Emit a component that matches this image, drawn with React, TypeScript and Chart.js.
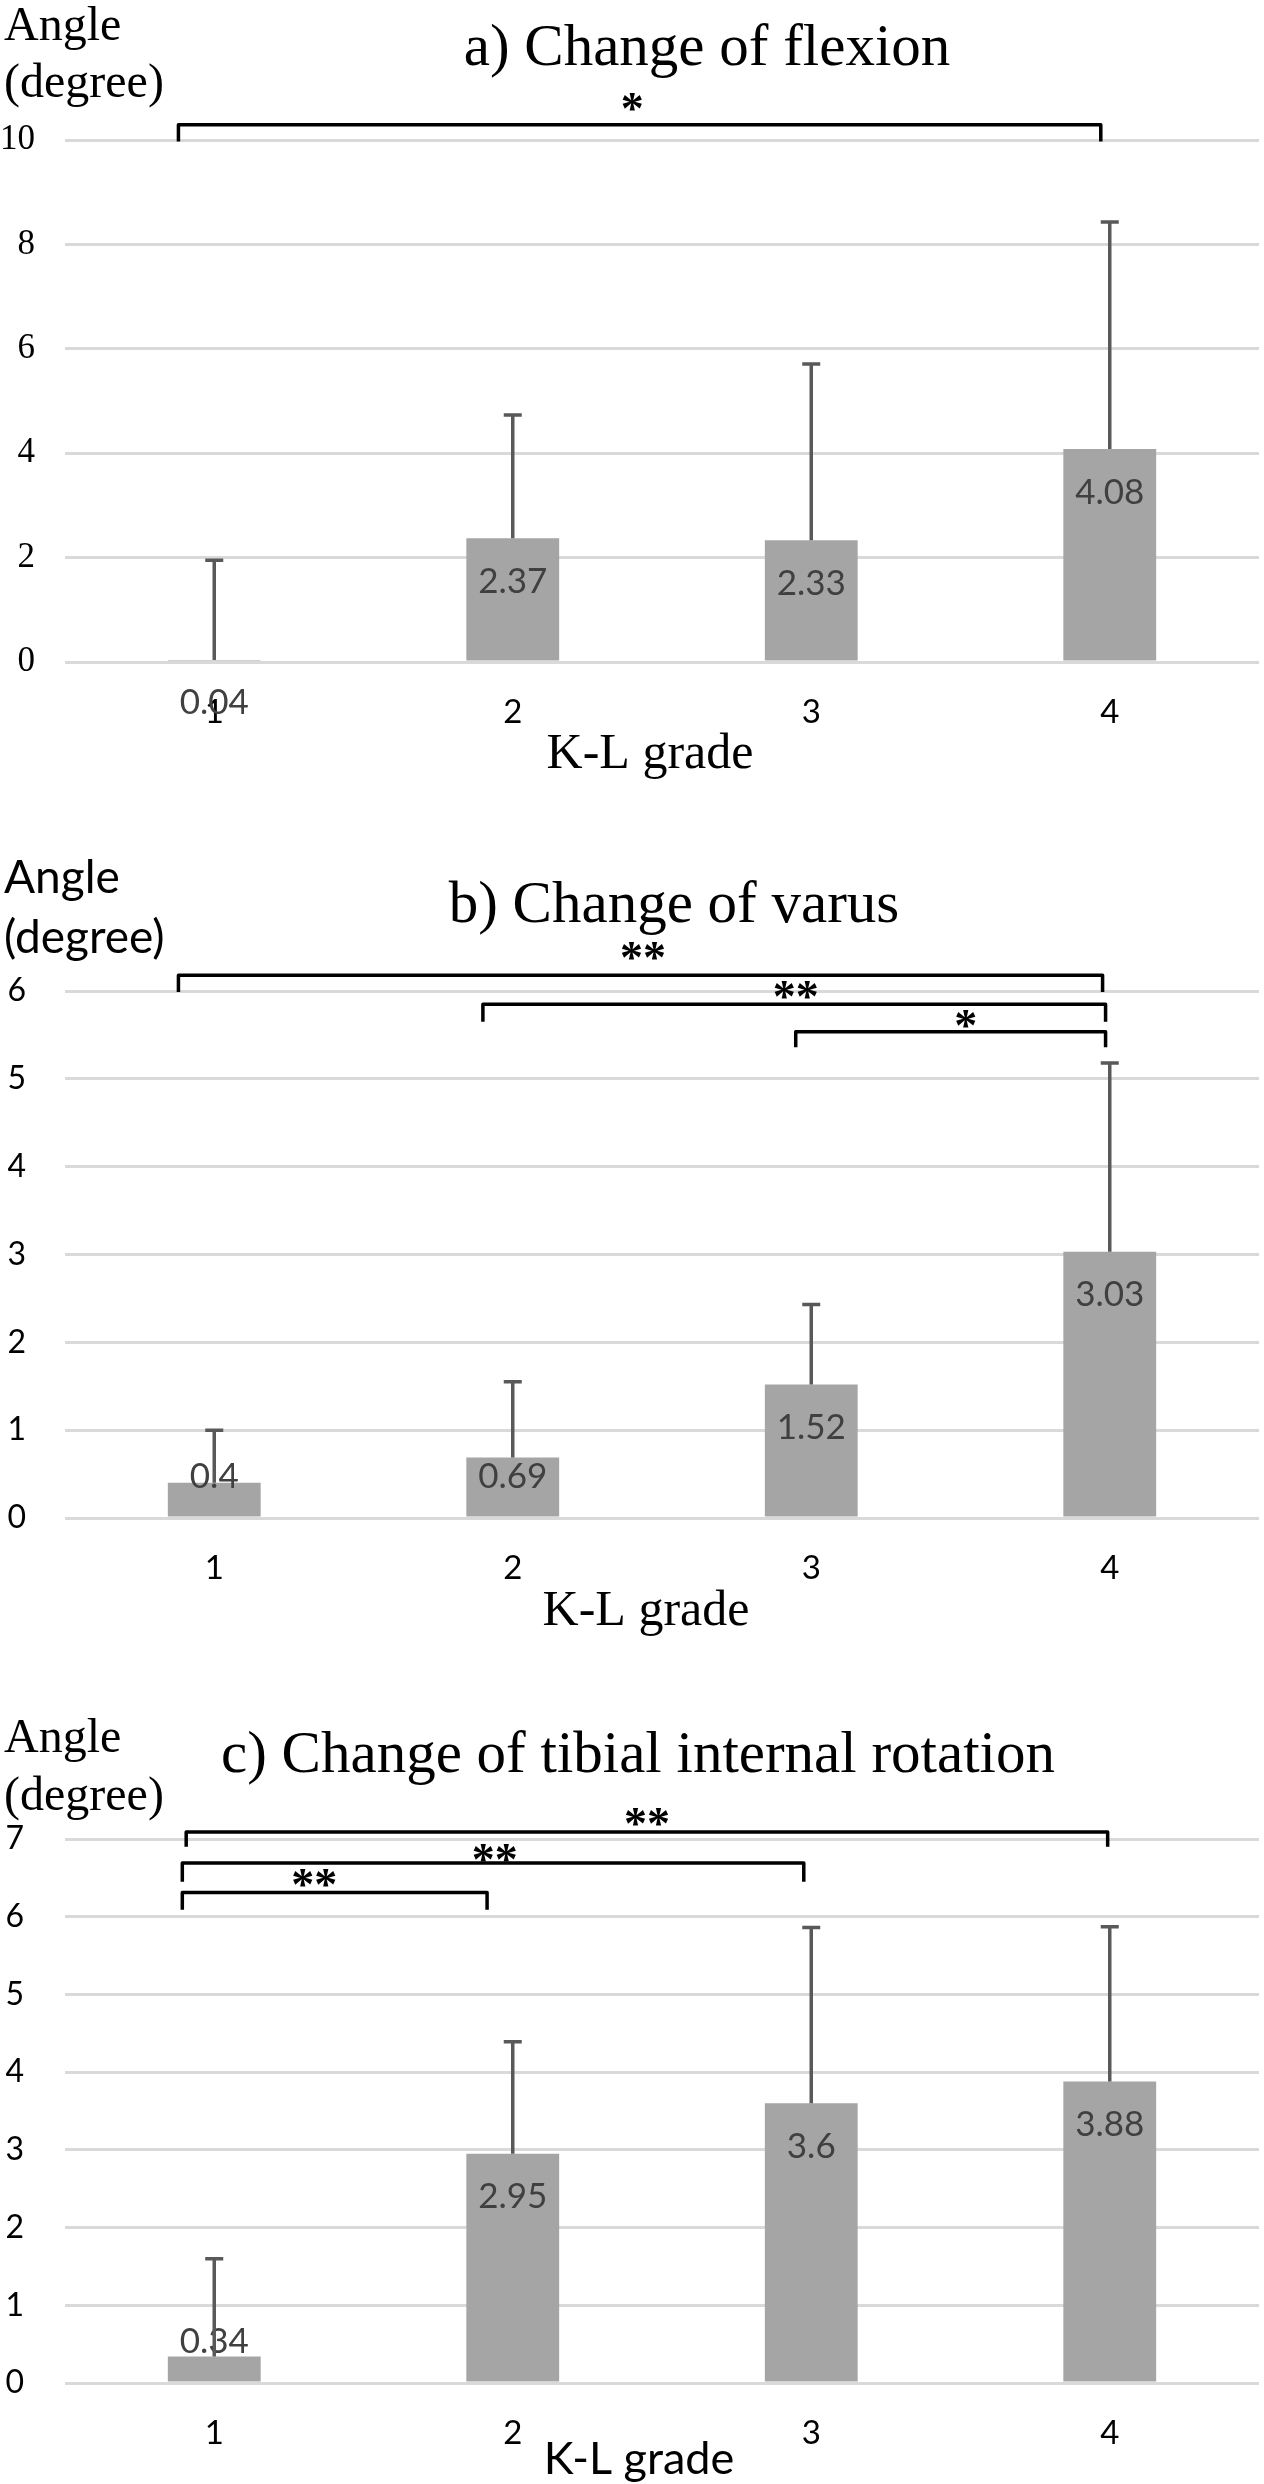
import React, { useEffect, useRef } from 'react';
import { Chart, registerables } from 'chart.js';

Chart.register(...registerables);

// ---------- data ----------
const categories = ['1', '2', '3', '4'];

const flexionMeans = [0.04, 2.37, 2.33, 4.08];
const flexionSD = [1.91, 2.36, 3.38, 4.35];

const varusMeans = [0.4, 0.69, 1.52, 3.03];
const varusSD = [0.6, 0.86, 0.91, 2.15];

const rotationMeans = [0.34, 2.95, 3.6, 3.88];
const rotationSD = [1.26, 1.44, 2.26, 1.99];

const flexionAxis = { max: 10, step: 2 };
const varusAxis = { max: 6, step: 1 };
const rotationAxis = { max: 7, step: 1 };

// significance brackets (category index / axis value units)
type Bracket = { from: number; to: number; top: number; leg: number; mark: string; markX: number; markY: number };

const flexionBrackets: Bracket[] = [
  { from: -0.12, to: 2.97, top: 10.29, leg: 9.97, mark: '*', markX: 1.4, markY: 10.73 },
];
const varusBrackets: Bracket[] = [
  { from: -0.12, to: 2.976, top: 6.18, leg: 5.99, mark: '**', markX: 1.436, markY: 6.45 },
  { from: 0.9, to: 2.986, top: 5.85, leg: 5.65, mark: '**', markX: 1.948, markY: 6.01 },
  { from: 1.948, to: 2.986, top: 5.535, leg: 5.36, mark: '*', markX: 2.518, markY: 5.68 },
];
const rotationBrackets: Bracket[] = [
  { from: -0.094, to: 2.993, top: 7.09, leg: 6.9, mark: '**', markX: 1.45, markY: 7.28 },
  { from: -0.107, to: 1.975, top: 6.69, leg: 6.45, mark: '**', markX: 0.94, markY: 6.82 },
  { from: -0.107, to: 0.914, top: 6.31, leg: 6.09, mark: '**', markX: 0.335, markY: 6.5 },
];

// ---------- styles / layout ----------
const SERIF = "'Liberation Serif', 'Times New Roman', serif";
const SANS = "Lato, 'Noto Sans', sans-serif";

type PanelCfg = {
  key: string;
  top: number;
  height: number;
  padTop: number;
  xAxisH: number;
  means: number[];
  sd: number[];
  axis: { max: number; step: number };
  brackets: Bracket[];
  title: string;
  titleX: number;
  titleY: number;
  angleFont: string;
  angleY: number;
  degreeY: number;
  xTitleFont: string;
  xTitleX: number;
  xTitleY: number;
  yTickFamily: string;
  yTickSize: number;
  yTickPad: number;
};

const panels: PanelCfg[] = [
  {
    key: 'a', top: 0, height: 800, padTop: 140, xAxisH: 138,
    means: flexionMeans, sd: flexionSD, axis: flexionAxis, brackets: flexionBrackets,
    title: 'a) Change of flexion', titleX: 707, titleY: 65,
    angleFont: `48px ${SERIF}`, angleY: 40, degreeY: 97,
    xTitleFont: `50px ${SERIF}`, xTitleX: 650, xTitleY: 768,
    yTickFamily: SERIF, yTickSize: 35, yTickPad: 30,
  },
  {
    key: 'b', top: 800, height: 860, padTop: 191, xAxisH: 142,
    means: varusMeans, sd: varusSD, axis: varusAxis, brackets: varusBrackets,
    title: 'b) Change of varus', titleX: 674, titleY: 122,
    angleFont: `46px ${SANS}`, angleY: 93, degreeY: 153,
    xTitleFont: `50px ${SERIF}`, xTitleX: 646, xTitleY: 825,
    yTickFamily: SANS, yTickSize: 32, yTickPad: 39,
  },
  {
    key: 'c', top: 1660, height: 824, padTop: 179, xAxisH: 101,
    means: rotationMeans, sd: rotationSD, axis: rotationAxis, brackets: rotationBrackets,
    title: 'c) Change of tibial internal rotation', titleX: 638, titleY: 112,
    angleFont: `48px ${SERIF}`, angleY: 92, degreeY: 150,
    xTitleFont: `45px ${SANS}`, xTitleX: 639, xTitleY: 814,
    yTickFamily: SANS, yTickSize: 32, yTickPad: 41,
  },
];

function centeredText(ctx: CanvasRenderingContext2D, txt: string, x: number, cy: number) {
  ctx.textBaseline = 'alphabetic';
  const m = ctx.measureText(txt);
  const y = cy + (m.actualBoundingBoxAscent - m.actualBoundingBoxDescent) / 2;
  ctx.fillText(txt, x, y);
}

function makePlugin(p: PanelCfg) {
  return {
    id: 'decor_' + p.key,
    afterDatasetsDraw(chart: any) {
      const ctx: CanvasRenderingContext2D = chart.ctx;
      const yS = chart.scales.y;
      const meta = chart.getDatasetMeta(0);
      ctx.save();
      // data labels
      ctx.font = `35px ${SANS}`;
      ctx.fillStyle = '#404040';
      ctx.textAlign = 'center';
      meta.data.forEach((bar: any, i: number) => {
        const { x, y, base } = bar.getProps(['x', 'y', 'base'], true);
        const h = base - y;
        const cy = h < 10 ? y + 42 : Math.min(y + 42, base - 41);
        centeredText(ctx, String(p.means[i]), x, cy);
      });
      // error bars (plus direction)
      ctx.strokeStyle = '#595959';
      ctx.lineWidth = 3.5;
      ctx.lineCap = 'butt';
      meta.data.forEach((bar: any, i: number) => {
        const x = bar.x;
        const start = yS.getPixelForValue(p.means[i]);
        const end = yS.getPixelForValue(p.means[i] + p.sd[i]);
        ctx.beginPath();
        ctx.moveTo(x, start);
        ctx.lineTo(x, end);
        ctx.moveTo(x - 9, end);
        ctx.lineTo(x + 9, end);
        ctx.stroke();
      });
      ctx.restore();
    },
    afterDraw(chart: any) {
      const ctx: CanvasRenderingContext2D = chart.ctx;
      const xS = chart.scales.x;
      const yS = chart.scales.y;
      ctx.save();
      // brackets
      ctx.strokeStyle = '#000';
      ctx.lineWidth = 3.5;
      ctx.lineJoin = 'round';
      ctx.fillStyle = '#000';
      ctx.textAlign = 'center';
      p.brackets.forEach((b) => {
        const x1 = xS.getPixelForValue(b.from);
        const x2 = xS.getPixelForValue(b.to);
        const yt = yS.getPixelForValue(b.top);
        const yl = yS.getPixelForValue(b.leg);
        ctx.beginPath();
        ctx.moveTo(x1, yl);
        ctx.lineTo(x1, yt);
        ctx.lineTo(x2, yt);
        ctx.lineTo(x2, yl);
        ctx.stroke();
        ctx.font = `bold 46px ${SERIF}`;
        centeredText(ctx, b.mark, xS.getPixelForValue(b.markX), yS.getPixelForValue(b.markY));
      });
      // title
      ctx.textBaseline = 'alphabetic';
      ctx.font = `59px ${SERIF}`;
      ctx.textAlign = 'center';
      ctx.fillText(p.title, p.titleX, p.titleY);
      // y label
      ctx.textAlign = 'left';
      ctx.font = p.angleFont;
      ctx.fillText('Angle', 4, p.angleY);
      ctx.fillText('(degree)', 4, p.degreeY);
      // x title
      ctx.textAlign = 'center';
      ctx.font = p.xTitleFont;
      ctx.fillText('K-L grade', p.xTitleX, p.xTitleY);
      ctx.restore();
    },
  };
}

function Panel({ p }: { p: PanelCfg }) {
  const ref = useRef<HTMLCanvasElement | null>(null);
  useEffect(() => {
    if (!ref.current) return;
    const chart = new Chart(ref.current, {
      type: 'bar',
      data: {
        labels: categories,
        datasets: [
          {
            data: p.means,
            backgroundColor: '#a5a5a5',
            borderWidth: 0,
            barPercentage: 0.311,
            categoryPercentage: 1.0,
          },
        ],
      },
      options: {
        animation: false,
        responsive: false,
        maintainAspectRatio: false,
        devicePixelRatio: 1,
        layout: { padding: { top: p.padTop, left: 0, right: 5, bottom: 0 } },
        plugins: {
          legend: { display: false },
          tooltip: { enabled: false },
          title: { display: false },
        },
        scales: {
          x: {
            grid: { display: false, drawTicks: false },
            border: { display: false },
            ticks: { color: '#000', font: { family: SANS, size: 33 }, padding: 31 },
            afterFit: (s: any) => { s.height = p.xAxisH; },
          },
          y: {
            min: 0,
            max: p.axis.max,
            grid: { color: '#d9d9d9', lineWidth: 3, drawTicks: false },
            border: { display: false },
            ticks: {
              stepSize: p.axis.step,
              color: '#000',
              font: { family: p.yTickFamily, size: p.yTickSize },
              padding: p.yTickPad,
            },
            afterFit: (s: any) => { s.width = 65; },
          },
        },
      },
      plugins: [makePlugin(p)],
    } as any);
    return () => chart.destroy();
  }, [p]);
  return (
    <canvas
      ref={ref}
      width={1264}
      height={p.height}
      style={{ position: 'absolute', left: 0, top: p.top, width: 1264, height: p.height, display: 'block' }}
    />
  );
}

export default function App() {
  return (
    <div style={{ position: 'absolute', left: 0, top: 0, width: 1264, height: 2484, background: '#fff', overflow: 'hidden' }}>
      {panels.map((p) => (
        <Panel key={p.key} p={p} />
      ))}
    </div>
  );
}
